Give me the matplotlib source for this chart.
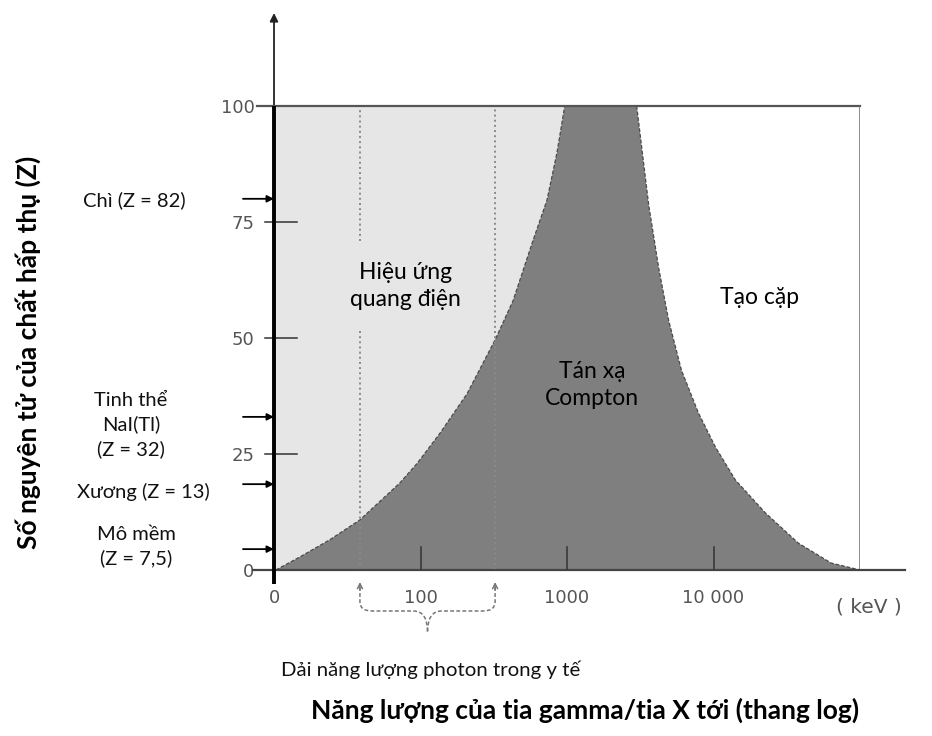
import numpy as np
import matplotlib.pyplot as plt
from matplotlib import transforms
from matplotlib.path import Path
from matplotlib.patches import PathPatch
from matplotlib.ticker import NullLocator

# photoelectric / Compton boundary (energy keV, Z)
pe_energy = [10.3, 15, 24, 38.6, 72, 95, 136, 208, 323, 428, 586, 730, 855, 965]
pe_z = [0, 2.8, 6.5, 10.8, 18.7, 23, 29.5, 38, 49.6, 58, 71, 79.7, 90, 100]

# Compton / pair production boundary (energy keV, Z)
cp_energy = [2990, 3610, 4230, 4940, 6050, 7900, 10300, 14100, 22600, 37900, 63500, 100000]
cp_z = [100, 78.7, 65, 53.8, 43, 33.8, 26.5, 19.4, 12.3, 5.8, 1.5, 0]

# medical photon energy band (dotted lines)
medical_band = [38.6, 323]

# absorber markers on the Z axis
marker_z = [80, 33, 18.5, 4.5]
marker_labels = ['Chì (Z = 82)', 'Tinh thể\nNaI(Tl)\n(Z = 32)', 'Xương (Z = 13)', 'Mô mềm\n(Z = 7,5)']

x_ticks = [10, 100, 1000, 10000]
x_tick_labels = ['0', '100', '1000', '10 000']
y_ticks = [0, 25, 50, 75, 100]

W, H = 932, 736
txt_font = ['Lato', 'Noto Sans', 'DejaVu Sans']
num_font = ['DejaVu Sans']

fig = plt.figure(figsize=(W / 100, H / 100), dpi=100)
ax = fig.add_axes([274 / W, (H - 570) / H, 586 / W, 464 / H])
ax.set_xscale('log')
ax.set_xlim(10, 1e5)
ax.set_ylim(0, 100)
for s in ax.spines.values():
    s.set_visible(False)
ax.set_facecolor('none')

px = 1 / 586   # one pixel in axes x fraction
py = 1 / 464   # one pixel in axes y fraction
xa = transforms.blended_transform_factory(ax.transAxes, ax.transData)

# regions
ax.fill_between([10, pe_energy[-1]], 0, 100, color='#e6e6e6', lw=0, zorder=1)
ax.fill(pe_energy + cp_energy + [10], pe_z + cp_z + [0], color='#7f7f7f', lw=0, zorder=2)
ax.plot(pe_energy, pe_z, color='#4a4a4a', lw=0.9, ls=(0, (3, 1.5)), zorder=3)
ax.plot(cp_energy, cp_z, color='#4a4a4a', lw=0.9, ls=(0, (3, 1.5)), zorder=3)

# frame
ax.plot([-17 * px, 1], [100, 100], transform=xa, color='#555555', lw=1.6, clip_on=False, zorder=4)
ax.plot([1e5, 1e5], [0, 100], color='#777777', lw=1.2, zorder=4)
ax.plot([-21 * px, 1 + 45 * px], [0, 0], transform=xa, color='#444444', lw=1.6, clip_on=False, zorder=4)

# dotted lines
ax.plot([medical_band[0]] * 2, [0, 51.5], color='#8a8a8a', ls=':', lw=1.4, zorder=3)
ax.plot([medical_band[0]] * 2, [71, 100], color='#8a8a8a', ls=':', lw=1.4, zorder=3)
ax.plot([medical_band[1]] * 2, [0, 100], color='#8a8a8a', ls=':', lw=1.4, zorder=3)

# tick marks
for z in y_ticks[1:-1]:
    ax.plot([-9 * px, 23 * px], [z, z], transform=xa, color='#333333', lw=1.1, clip_on=False, zorder=5)
for e in x_ticks[1:]:
    ax.plot([e, e], [0, 5], color='#333333', lw=1.1, zorder=5)

ax.set_xticks(x_ticks, x_tick_labels)
ax.set_yticks(y_ticks)
ax.xaxis.set_minor_locator(NullLocator())
ax.tick_params(which='both', length=0, colors='#555555', labelsize=13)
ax.tick_params(axis='x', pad=14)
ax.tick_params(axis='y', pad=14)
for lab in ax.get_xticklabels() + ax.get_yticklabels():
    lab.set_family(num_font)
ax.text(1 + 9 * px, -6, '( keV )', transform=xa, color='#555555', fontsize=14.5,
        family=num_font, ha='center', va='top')

# Z axis with arrow
ax.plot([0, 0], [-3, 100], transform=xa, color='black', lw=2.8, clip_on=False, zorder=6,
        solid_capstyle='butt')
ax.annotate('', xy=(0, 1 + 93 * py), xycoords='axes fraction', xytext=(0, 1),
            arrowprops=dict(arrowstyle='-|>', color='#222222', lw=1.3, mutation_scale=12,
                            shrinkA=0, shrinkB=0), annotation_clip=False)

# absorber arrows
for z in marker_z:
    ax.annotate('', xy=(0, z), xycoords=xa, xytext=(-31 * px, z), textcoords=xa,
                arrowprops=dict(arrowstyle='-|>', color='black', lw=1.3, mutation_scale=10,
                                shrinkA=0, shrinkB=0), annotation_clip=False, zorder=7)

label_pos = [(134, 200), (131, 425), (143, 492), (136, 547)]
for (x, y), t in zip(label_pos, marker_labels):
    fig.text(x / W, 1 - y / H, t, ha='center', va='center', fontsize=14.5, family=txt_font,
             linespacing=1.42, color='#111111')

# region labels
ax.text(0.224, 1 - 180 * py, 'Hiệu ứng\nquang điện', transform=ax.transAxes, ha='center',
        va='center', fontsize=16.5, family=txt_font, linespacing=1.38, zorder=8)
ax.text(0.543, 1 - 279 * py, 'Tán xạ\nCompton', transform=ax.transAxes, ha='center',
        va='center', fontsize=16.5, family=txt_font, linespacing=1.38, zorder=8)
ax.text(0.829, 1 - 191 * py, 'Tạo cặp', transform=ax.transAxes, ha='center',
        va='center', fontsize=16.5, family=txt_font, zorder=8)

# brace under the medical band
fl = (np.log10(medical_band[0]) - 1) / 4
fr = (np.log10(medical_band[1]) - 1) / 4
fm = (fl + fr) / 2
g1, g2, g3, g4 = -17 * py, -32 * py, -41 * py, -62 * py
codes = [Path.MOVETO, Path.LINETO, Path.CURVE3, Path.CURVE3, Path.LINETO, Path.CURVE3, Path.CURVE3]
left = [(fl, g1), (fl, g2), (fl, g3), (fl + 12 * px, g3), (fm - 14 * px, g3), (fm, g3), (fm, g4)]
right = [(fr, g1), (fr, g2), (fr, g3), (fr - 12 * px, g3), (fm + 14 * px, g3), (fm, g3), (fm, g4)]
for vv in (left, right):
    ax.add_patch(PathPatch(Path(vv, codes), transform=ax.transAxes, fill=False, ec='#777777',
                           lw=1.1, ls=(0, (2.5, 1.5)), clip_on=False))
    ax.annotate('', xy=(vv[0][0], -12 * py), xycoords='axes fraction',
                xytext=(vv[0][0], -20 * py),
                arrowprops=dict(arrowstyle='->', color='#777777', lw=1.1, mutation_scale=9,
                                shrinkA=0, shrinkB=0), annotation_clip=False)

fig.text(431 / W, 1 - 670 / H, 'Dải năng lượng photon trong y tế', ha='center', va='center',
         fontsize=14.7, family=txt_font, color='#111111')
fig.text(585 / W, 1 - 710 / H, 'Năng lượng của tia gamma/tia X tới (thang log)', ha='center',
         va='center', fontsize=19, weight='bold', family=txt_font, color='black')
fig.text(28 / W, 1 - 352 / H, 'Số nguyên tử của chất hấp thụ (Z)', ha='center', va='center',
         rotation=90, fontsize=19, weight='bold', family=txt_font, color='black')

fig.savefig('out.png', dpi=100)
